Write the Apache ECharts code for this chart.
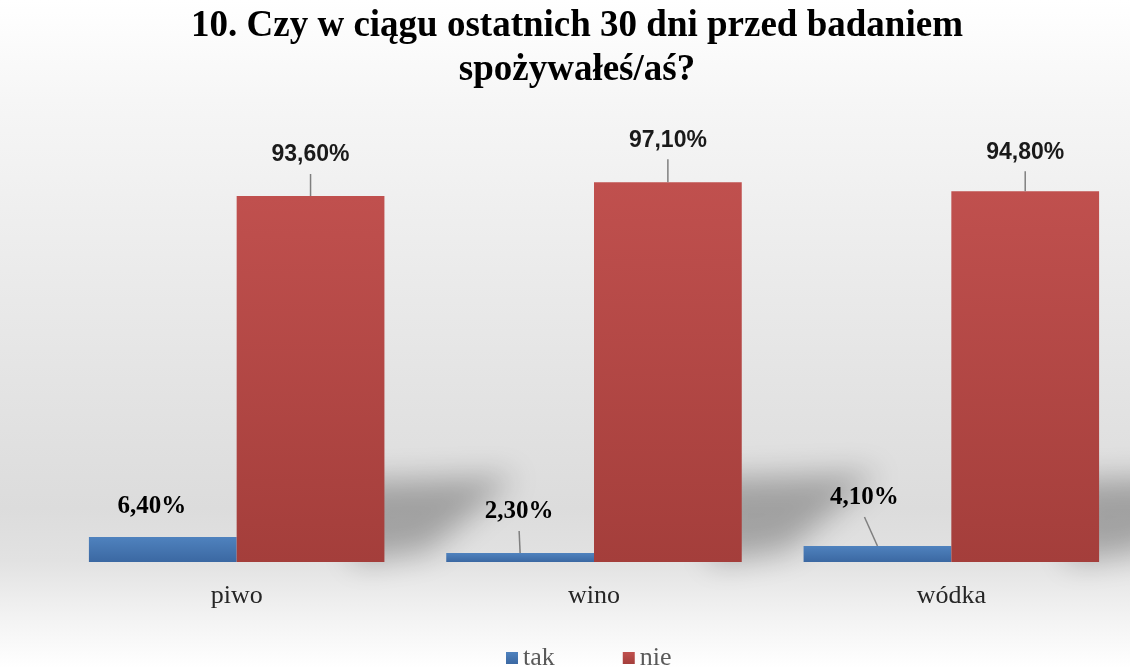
<!DOCTYPE html>
<html>
<head>
<meta charset="utf-8">
<script src="https://cdn.jsdelivr.net/npm/echarts@6/dist/echarts.min.js"></script>
<style>
  html, body { margin: 0; padding: 0; }
  #chart {
    width: 1130px; height: 668px;
    background: linear-gradient(to bottom, #ffffff 0%, #f6f6f6 15%, #e9e9e9 45%, #dcdcdc 76%, #e2e2e2 84%, #f2f2f2 92%, #ffffff 100%);
  }
</style>
</head>
<body>
<div id="chart"></div>
<script>
var categories = ['piwo', 'wino', 'wódka'];
var takValues = [6.4, 2.3, 4.1];
var nieValues = [93.6, 97.1, 94.8];

var myChart = echarts.init(document.getElementById('chart'));

var catGap = 0.173;

function pct(v) {
    return v.toFixed(2).replace('.', ',') + '%';
}

// label offsets from the top centre of each bar: [dx, dy above, leader line]
var labelPos = [
    [[-11, 30, false], [-1, 41, true], [-13, 48, true]],   // tak
    [[0, 41, true], [0, 42, true], [0, 39, true]]          // nie
];

function labelPlacer(pos) {
    return function (p) {
        var o = pos[p.dataIndex];
        var cx = p.rect.x + p.rect.width / 2;
        return { x: cx + o[0], y: p.rect.y - o[1], align: 'center', verticalAlign: 'middle' };
    };
}

// one entry per bar: [category index, series index, value]
var leaderData = [];
categories.forEach(function (c, i) {
    leaderData.push([i, 0, takValues[i]]);
    leaderData.push([i, 1, nieValues[i]]);
});

var option = {
    animation: false,
    graphic: [{
        type: 'text',
        x: 577,
        y: 4,
        silent: true,
        style: {
            text: '10. Czy w ciągu ostatnich 30 dni przed badaniem\nspożywałeś/aś?',
            align: 'center',
            verticalAlign: 'top',
            fontFamily: 'Liberation Serif',
            fontWeight: 'bold',
            fontSize: 37,
            lineHeight: 44,
            fill: '#000'
        }
    }],
    legend: {
        data: ['tak', 'nie'],
        left: 506,
        top: 645,
        padding: 0,
        itemWidth: 12,
        itemHeight: 12,
        itemGap: 68,
        icon: 'rect',
        textStyle: {
            fontFamily: 'Liberation Serif',
            fontSize: 26,
            color: '#595959'
        }
    },
    grid: {
        left: 58,
        right: 0,
        top: 171,
        bottom: 106
    },
    xAxis: {
        type: 'category',
        data: categories,
        axisLine: { show: false },
        axisTick: { show: false },
        axisLabel: {
            margin: 21,
            fontFamily: 'Liberation Serif',
            fontSize: 26,
            color: '#262626'
        }
    },
    yAxis: {
        type: 'value',
        min: 0,
        max: 100,
        show: false,
        splitLine: { show: false }
    },
    series: [
        {
            // soft floor shadows to the right of the red bars
            type: 'custom',
            silent: true,
            z: 1,
            data: nieValues.map(function (v, i) { return [i, v]; }),
            encode: { x: 0, y: 1 },
            renderItem: function (params, api) {
                var base = api.coord([api.value(0), 0]);
                var top = api.coord([api.value(0), api.value(1)]);
                var barW = api.size([1, 0])[0] * (1 - catGap) / 2;
                var x1 = base[0] + barW;
                var h = base[1] - top[1];
                var y0 = base[1];
                var off = 2000;
                return {
                    type: 'polygon',
                    shape: {
                        points: [
                            [x1 - 30, y0 - off],
                            [x1 - 30, y0 - 0.22 * h - off],
                            [x1 + 0.36 * h, y0 - 0.235 * h - off],
                            [x1 + 0.12 * h, y0 - 0.03 * h - off]
                        ]
                    },
                    style: {
                        fill: '#000',
                        shadowBlur: 30,
                        shadowOffsetY: off,
                        shadowColor: 'rgba(0,0,0,0.27)'
                    }
                };
            }
        },
        {
            // leader lines from labels to bars
            type: 'custom',
            silent: true,
            z: 4,
            data: leaderData,
            encode: { x: 0, y: 2 },
            renderItem: function (params, api) {
                var ci = api.value(0);
                var si = api.value(1);
                var o = labelPos[si][ci];
                if (!o[2]) {
                    return null;
                }
                var top = api.coord([ci, api.value(2)]);
                var barW = api.size([1, 0])[0] * (1 - catGap) / 2;
                var bx = top[0] + (si === 0 ? -barW / 2 : barW / 2);
                return {
                    type: 'line',
                    shape: { x1: bx + o[0], y1: top[1] - o[1] + 19, x2: bx, y2: top[1] },
                    style: { stroke: '#7f7f7f', lineWidth: 1.5 }
                };
            }
        },
        {
            name: 'tak',
            type: 'bar',
            z: 3,
            data: takValues,
            barGap: '0%',
            barCategoryGap: (catGap * 100) + '%',
            itemStyle: {
                color: new echarts.graphic.LinearGradient(0, 0, 0, 1, [
                    { offset: 0, color: '#4f82be' },
                    { offset: 1, color: '#3b68a2' }
                ])
            },
            label: {
                show: true,
                position: 'top',
                formatter: function (p) { return pct(p.value); },
                fontFamily: 'Liberation Serif',
                fontWeight: 'bold',
                fontSize: 25,
                color: '#000'
            },
            labelLayout: labelPlacer(labelPos[0])
        },
        {
            name: 'nie',
            type: 'bar',
            z: 3,
            data: nieValues,
            barGap: '0%',
            barCategoryGap: (catGap * 100) + '%',
            itemStyle: {
                color: new echarts.graphic.LinearGradient(0, 0, 0, 1, [
                    { offset: 0, color: '#c0504e' },
                    { offset: 1, color: '#a43e3b' }
                ])
            },
            label: {
                show: true,
                position: 'top',
                formatter: function (p) { return pct(p.value); },
                fontFamily: 'Liberation Sans',
                fontWeight: 'bold',
                fontSize: 23,
                color: '#1a1a1a'
            },
            labelLayout: labelPlacer(labelPos[1])
        }
    ]
};

myChart.setOption(option);
</script>
</body>
</html>
